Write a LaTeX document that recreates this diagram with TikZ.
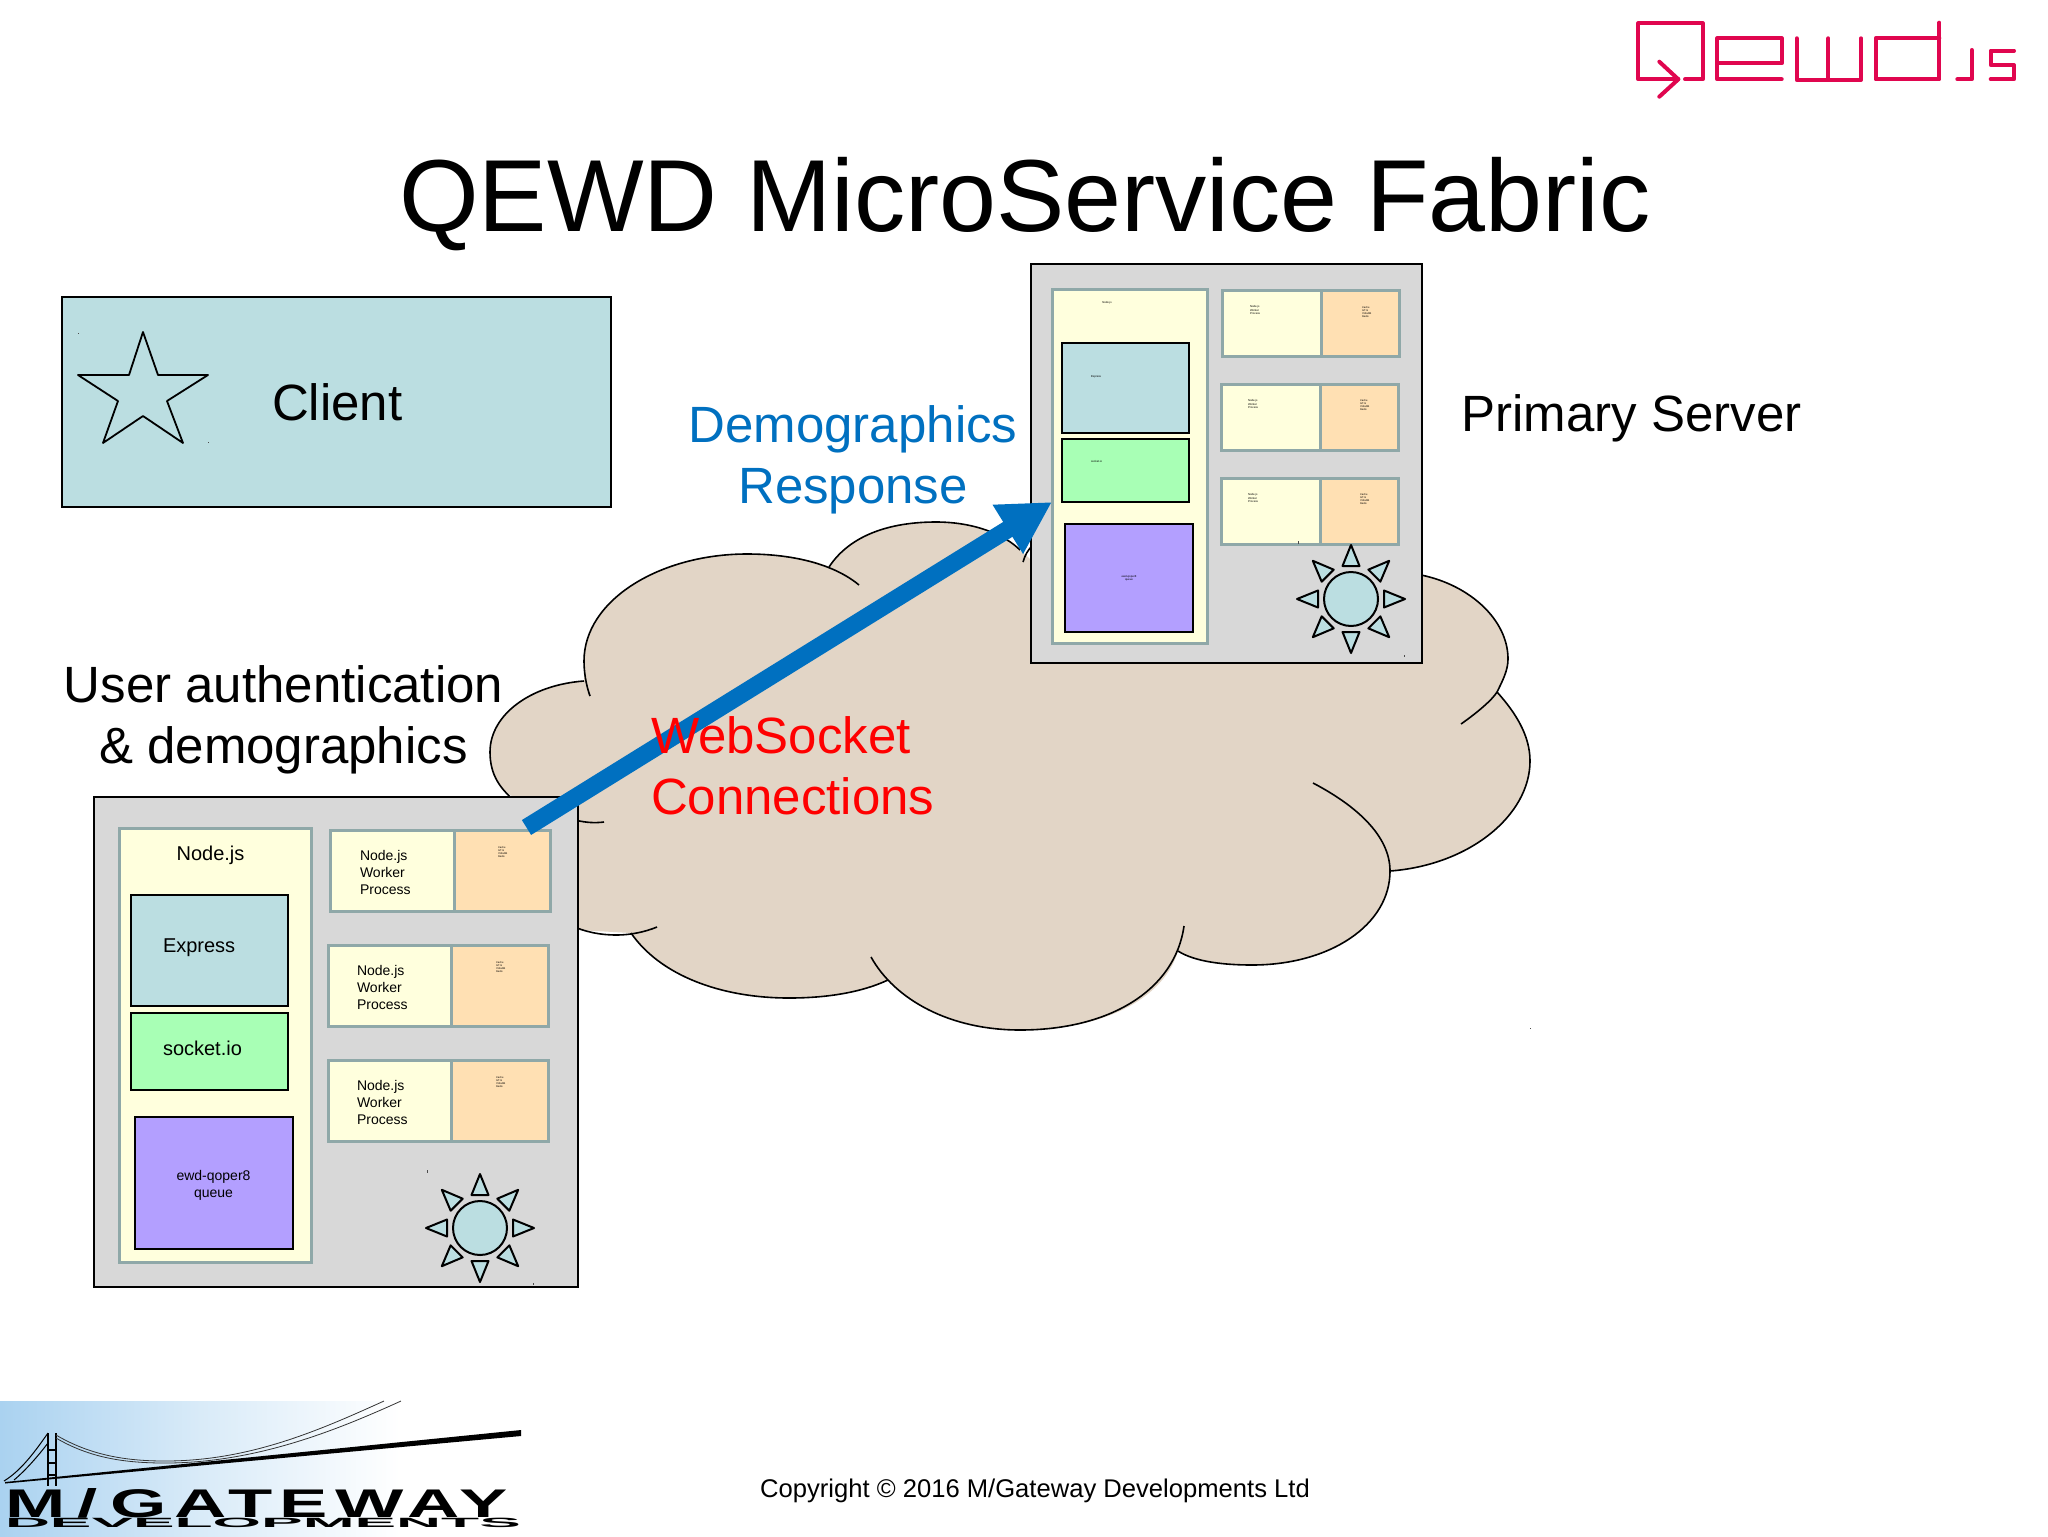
\documentclass[tikz,border=0pt]{standalone}
\usepackage{fontspec}
\usepackage{graphicx}
\setmainfont{Liberation Sans}
\usetikzlibrary{arrows.meta}
\definecolor{cloudfill}{HTML}{E2D5C6}
\definecolor{servergray}{HTML}{D8D8D8}
\definecolor{framegray}{HTML}{8FA8A8}
\definecolor{paleyellow}{HTML}{FFFFDD}
\definecolor{paleorange}{HTML}{FFE0B3}
\definecolor{paleblue}{HTML}{BBDEE1}
\definecolor{palegreen}{HTML}{A8FFB5}
\definecolor{palepurple}{HTML}{B39FFF}
\definecolor{flowblue}{HTML}{0070C0}
\definecolor{qewdred}{HTML}{E0064F}
\definecolor{skyblue}{HTML}{AAD2F0}
\newcommand{\fs}[2]{\fontsize{#1}{#2}\selectfont}
\tikzset{
  x=0.5pt, y=-0.5pt,
  label/.style={inner sep=0pt, outer sep=0pt, align=left, text=black},
  bigtext/.style={label, font=\fs{25.5}{30.5}},
  midtext/.style={label, font=\fs{10}{10}},
  wtext/.style={label, font=\fs{7}{8.5}},
  tinycache/.style={label, font=\fs{1.3}{1.6}},
  tinytext/.style={label, font=\fs{1.4}{1.7}},
  serverbox/.style={fill=servergray, draw=black, line width=1.1pt},
  frame/.style={draw=framegray, line width=1.5pt},
  inner/.style={draw=black, line width=0.9pt},
  cloudline/.style={draw=black, line width=0.8pt},
  qline/.style={draw=qewdred, line width=2pt, line cap=round, line join=round},
  speck/.style={fill=black!70, draw=none},
  sun/.pic={
    \draw[fill=paleblue, draw=black, line width=1pt] (0,0) circle[radius=13.5pt];
    \foreach \a in {0,45,...,315}{
      \draw[fill=paleblue, draw=black, line width=1pt, line join=round, rotate=\a]
        (-8.5,-33) -- (0,-54) -- (8.5,-33) -- cycle;
    }
  }
}
\begin{document}
\begin{tikzpicture}
\useasboundingbox (0,0) rectangle (2048,1536);
\fill[white] (0,0) rectangle (2048,1536);

% ---- cloud
\fill[cloudfill]
  (829,567) .. controls (850,535) and (890,522) .. (936,522)
  .. controls (975,522) and (1005,535) .. (1031,560)
  -- (1421,575)
  .. controls (1470,585) and (1508,620) .. (1508,659)
  .. controls (1508,670) and (1503,680) .. (1497,692)
  .. controls (1515,712) and (1530,735) .. (1530,761)
  .. controls (1530,815) and (1470,865) .. (1390,871)
  .. controls (1390,925) and (1330,965) .. (1252,965)
  .. controls (1225,965) and (1195,962) .. (1178,951)
  .. controls (1165,995) and (1110,1030) .. (1020,1030)
  .. controls (960,1030) and (910,1005) .. (888,980)
  .. controls (860,993) and (825,998) .. (789,998)
  .. controls (720,998) and (660,975) .. (631,933)
  -- (578,930) -- (512,796)
  .. controls (500,790) and (490,775) .. (490,752)
  .. controls (490,715) and (530,685) .. (584,681)
  -- (584,661)
  .. controls (584,600) and (660,554) .. (747,554)
  .. controls (785,554) and (815,560) .. (829,567) -- cycle;
\draw[cloudline] (829,567) .. controls (850,535) and (890,522) .. (936,522)
  .. controls (975,522) and (1005,535) .. (1020,550);
\draw[cloudline] (1023,562) .. controls (1025,555) and (1028,550) .. (1032,546);
\draw[cloudline] (590,696) .. controls (586,685) and (584,672) .. (584,661)
  .. controls (584,600) and (660,554) .. (747,554)
  .. controls (795,554) and (835,565) .. (859,585);
\draw[cloudline] (584,681) .. controls (530,685) and (490,715) .. (490,752)
  .. controls (490,775) and (500,790) .. (520,805);
\draw[cloudline] (575,820) .. controls (587,823) and (596,823) .. (604,822);
\draw[cloudline] (570,925) .. controls (585,932) and (600,935) .. (617,935)
  .. controls (630,935) and (645,932) .. (657,927);
\draw[cloudline] (631,933) .. controls (660,975) and (720,998) .. (789,998)
  .. controls (825,998) and (860,993) .. (888,980);
\draw[cloudline] (871,957) .. controls (895,1000) and (950,1030) .. (1020,1030)
  .. controls (1110,1030) and (1175,990) .. (1184,926);
\draw[cloudline] (1178,951) .. controls (1195,962) and (1225,965) .. (1252,965)
  .. controls (1330,965) and (1390,925) .. (1390,871)
  .. controls (1390,835) and (1355,805) .. (1313,783);
\draw[cloudline] (1390,871) .. controls (1470,865) and (1530,815) .. (1530,761)
  .. controls (1530,735) and (1515,712) .. (1497,692);
\draw[cloudline] (1461,724) .. controls (1478,712) and (1492,700) .. (1497,692)
  .. controls (1503,680) and (1508,670) .. (1508,659)
  .. controls (1508,620) and (1470,585) .. (1421,575);

% ---- title
\node[label, anchor=base, font=\fs{51.2}{51.2}] (title) at (1025,231) {QEWD MicroService Fabric};

% ---- qewd logo
\draw[qline] (1685,79.3) -- (1702.7,79.3) -- (1702.7,23.3) -- (1638.3,23.3) -- (1638.3,79.3) -- (1678.3,79.3);
\draw[qline] (1659.3,61.7) -- (1678.3,79.3) -- (1659.3,96.7);
\draw[qline] (1781.7,79.3) -- (1717.3,79.3) -- (1717.3,38.3) -- (1781.7,38.3) -- (1781.7,63.3) -- (1717.3,63.3);
\draw[qline] (1796.7,38.3) -- (1796.7,80) -- (1861,80) -- (1861,38.3);
\draw[qline] (1828.3,38.3) -- (1828.3,80);
\draw[qline] (1939.3,22.7) -- (1939.3,79.3) -- (1875.7,79.3) -- (1875.7,38.3) -- (1939.3,38.3);
\draw[qline] (1957.3,79.3) -- (1971.7,79.3) -- (1971.7,50);
\draw[qline] (2014,50.7) -- (1990.7,50.7) -- (1990.7,65) -- (2014,65) -- (2014,79.3) -- (1990.7,79.3);

% ---- client
\draw[fill=paleblue, draw=black, line width=1pt] (62,297) rectangle (611,507);
\draw[draw=black, line width=0.9pt, line join=round] (143,332) -- (158,375) -- (208,375) -- (167,401) -- (183,443)
  -- (143,416) -- (103,443) -- (118,401) -- (78,375) -- (129,375) -- cycle;
\node[bigtext, anchor=base west] (client) at (272,420) {Client};
\fill[speck] (77.5,332.5) rectangle +(1,1);
\fill[speck] (207.5,441.5) rectangle +(1.5,1.5);

% ---- headings
\node[bigtext, align=center] (auth) at (283.5,720) {User authentication\\\& demographics};
\node[bigtext, align=center, text=flowblue] (resp) at (853,460) {Demographics\\Response};
\node[bigtext, anchor=west] (primary) at (1461.5,418) {Primary Server};

% ---- left server
\draw[serverbox] (94,797) rectangle (578,1287);
\draw[frame, fill=paleyellow] (119,828) rectangle (311,1262);
\draw[inner, fill=paleblue] (131,895) rectangle (288,1006);
\draw[inner, fill=palegreen] (131,1013) rectangle (288,1090);
\draw[inner, fill=palepurple] (135,1117) rectangle (293,1249);
\node[midtext, anchor=center] (lnode) at (210.5,855.5) {Node.js};
\node[midtext, anchor=west] (lexp) at (163,947.5) {Express};
\node[midtext, anchor=west] (lsock) at (163,1048) {socket.io};
\node[wtext, align=center] (lewd) at (213.5,1185) {ewd-qoper8\\queue};
\foreach \x/\y/\s/\tx/\ty/\cx/\cy/\n in {330/830/454/360/872/498/852/a, 328/945/451/357/987/496/967/b, 328/1060/451/357/1102/496/1082/c}{
  \draw[frame, fill=paleyellow] (\x,\y) rectangle (\s,\y+81);
  \draw[frame, fill=paleorange] (\s,\y) rectangle (\x+220,\y+81);
  \node[wtext, anchor=west] (lw\n) at (\tx,\ty) {Node.js\\Worker\\Process};
  \node[tinycache, anchor=west] (lc\n) at (\cx,\cy) {Cache\\GT.m\\YottaDB\\Redis};
}
\pic at (480,1228) {sun};
\fill[speck] (427,1170) rectangle +(1,3);
\fill[speck] (532.5,1283) rectangle +(1,2);

% ---- right server
\draw[serverbox] (1031,264) rectangle (1422,663);
\draw[frame, fill=paleyellow] (1052,289) rectangle (1207,643);
\draw[inner, fill=paleblue] (1062,343) rectangle (1189,433);
\draw[inner, fill=palegreen] (1062,439) rectangle (1189,502);
\draw[inner, fill=palepurple] (1065,524) rectangle (1193,632);
\node[tinytext, anchor=center] (rnode) at (1107,303) {Node.js};
\node[tinytext, anchor=west] (rexp) at (1091,377) {Express};
\node[tinytext, anchor=west] (rsock) at (1091,461) {socket.io};
\node[tinytext, align=center] (rewd) at (1129,578) {ewd-qoper8\\queue};
\foreach \x/\y/\s/\tx/\ty/\cx/\cy/\n in {1222/290/1321/1250/310/1362/312/a, 1221/384/1320/1248/404/1360/405/b, 1221/478/1320/1248/498/1360/499/c}{
  \draw[frame, fill=paleyellow] (\x,\y) rectangle (\s,\y+66);
  \draw[frame, fill=paleorange] (\s,\y) rectangle (\x+177,\y+66);
  \node[tinytext, anchor=west] (rw\n) at (\tx,\ty) {Node.js\\Worker\\Process};
  \node[tinycache, anchor=west] (rc\n) at (\cx,\cy) {Cache\\GT.m\\YottaDB\\Redis};
}
\pic at (1351,599) {sun};
\fill[speck] (1298,541) rectangle +(1,3);
\fill[speck] (1403.5,654.5) rectangle +(1.5,2);

% ---- connector
\coordinate (flowstart) at (526.5,827.5);
\coordinate (flowend) at (1052,502);
\draw[flowblue, line width=8.75pt, -{Triangle[length=26pt,width=27pt]}] (flowstart) -- (flowend);

\node[bigtext] (ws) [anchor=north west] at (651,717) {\textcolor{red}{WebSocket}\\\textcolor{red}{Connections}};
\fill[speck] (1530,1028) rectangle +(1,1);

% ---- bottom logo
\shade[left color=skyblue, right color=white, middle color=skyblue!45] (0,1401) rectangle (400,1536);
\draw[black, line width=0.5pt] (4,1481) .. controls (22,1470) and (36,1450) .. (48,1433);
\draw[black, line width=0.5pt] (14,1480) .. controls (26,1470) and (38,1456) .. (48,1443);
\draw[black, line width=1pt] (48,1433) -- (48,1486);
\draw[black, line width=1pt] (56,1433) -- (56,1486);
\foreach \y in {1450,1463,1475}{ \draw[black, line width=0.8pt] (48,\y) -- (56,\y); }
\draw[black!80, line width=0.4pt] (56,1435) .. controls (90,1455) and (125,1461) .. (165,1461)
  .. controls (250,1461) and (320,1430) .. (384,1401);
\draw[black!80, line width=0.4pt] (56,1438) .. controls (90,1458) and (125,1463) .. (165,1463)
  .. controls (255,1463) and (335,1431) .. (401,1401);
\fill[black] (5,1482) -- (521,1430) -- (521,1436) -- (5,1483.5) -- cycle;
\node[label, anchor=base west, inner sep=0pt, font=\bfseries\fs{20}{20}] (mg) at (5,1517)
  {\raisebox{0pt}[\height][0pt]{\scalebox{1.81}[1]{\addfontfeature{LetterSpace=10}M\kern3.5pt/\kern3.5pt GATEWAY}}};
\node[label, anchor=base west, inner sep=0pt, font=\bfseries\fs{6.7}{6.7}] (dev) at (5,1527)
  {\raisebox{0pt}[\height][0pt]{\scalebox{4.65}[1]{DEVELOPMENTS}}};

\node[label, anchor=base, font=\fs{12.8}{12.8}] (copy) at (1035,1497.5) {Copyright © 2016 M/Gateway Developments Ltd};
\end{tikzpicture}
\end{document}
